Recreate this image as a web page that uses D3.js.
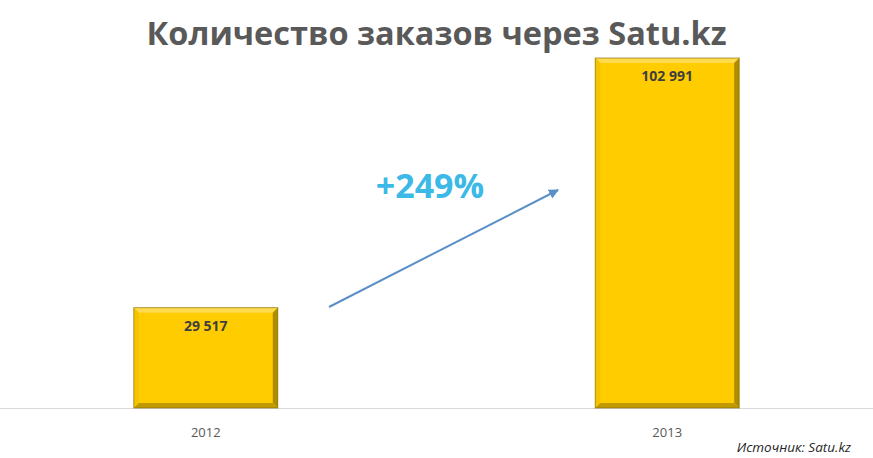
<!DOCTYPE html>
<html>
<head>
<meta charset="utf-8">
<script src="https://cdn.jsdelivr.net/npm/d3@7"></script>
<style>
  body { margin: 0; background: #fff; }
  svg { display: block; }
</style>
</head>
<body>
<svg width="873" height="458"></svg>
<script>
// chart data
const years = ["2012", "2013"];
const orders = [29517, 102991];
const growthLabel = "+249%";

const svg = d3.select("svg"),
    width = +svg.attr("width"),
    height = +svg.attr("height");

const baseY = 408;

const x = d3.scaleBand()
    .domain(years)
    .range([0, width])
    .paddingInner(0.688)
    .paddingOuter(0.29);

const y = d3.scaleLinear()
    .domain([0, d3.max(orders)])
    .range([baseY, 58]);

// title
svg.append("text")
    .attr("x", width / 2)
    .attr("y", 45)
    .attr("text-anchor", "middle")
    .attr("font-family", "Open Sans, sans-serif")
    .attr("font-weight", "bold")
    .attr("font-size", "32.5px")
    .attr("fill", "#595959")
    .text("Количество заказов через Satu.kz");

// baseline
svg.append("line")
    .attr("x1", 0).attr("x2", width)
    .attr("y1", baseY + 0.5).attr("y2", baseY + 0.5)
    .attr("stroke", "#d9d9d9")
    .attr("stroke-width", 1);

const bevel = 5;
const bars = svg.selectAll(".bar")
    .data(years.map((yr, i) => ({ year: yr, value: orders[i] })))
    .enter()
    .append("g")
    .attr("class", "bar");

bars.each(function(d) {
    const g = d3.select(this);
    const x0 = x(d.year), x1 = x0 + x.bandwidth();
    const y0 = y(d.value), y1 = baseY;
    g.append("rect")
        .attr("x", x0).attr("y", y0)
        .attr("width", x1 - x0).attr("height", y1 - y0)
        .attr("fill", "#ffcc00");
    // bevel edges
    const faces = [
        { pts: [[x0, y0], [x1, y0], [x1 - bevel, y0 + bevel], [x0 + bevel, y0 + bevel]], c: "#ffdb4d" },
        { pts: [[x0, y0], [x0 + bevel, y0 + bevel], [x0 + bevel, y1 - bevel], [x0, y1]], c: "#f5c400" },
        { pts: [[x1, y0], [x1, y1], [x1 - bevel, y1 - bevel], [x1 - bevel, y0 + bevel]], c: "#b08c00" },
        { pts: [[x0, y1], [x0 + bevel, y1 - bevel], [x1 - bevel, y1 - bevel], [x1, y1]], c: "#c09a00" }
    ];
    faces.forEach(f => {
        g.append("polygon")
            .attr("points", f.pts.map(p => p.join(",")).join(" "))
            .attr("fill", f.c);
    });
    g.append("rect")
        .attr("x", x0).attr("y", y0)
        .attr("width", x1 - x0).attr("height", y1 - y0)
        .attr("fill", "none")
        .attr("stroke", "#7a6200")
        .attr("stroke-opacity", 0.6)
        .attr("stroke-width", 1);
    g.append("text")
        .attr("x", (x0 + x1) / 2)
        .attr("y", y0 + 23)
        .attr("text-anchor", "middle")
        .attr("font-family", "Open Sans, sans-serif")
        .attr("font-weight", "bold")
        .attr("font-size", "14px")
        .attr("fill", "#3f3f3f")
        .text(d3.format(",")(d.value).replace(/,/g, " "));
});

// category labels
svg.selectAll(".cat")
    .data(years)
    .enter()
    .append("text")
    .attr("class", "cat")
    .attr("x", d => x(d) + x.bandwidth() / 2)
    .attr("y", 437)
    .attr("text-anchor", "middle")
    .attr("font-family", "Open Sans, sans-serif")
    .attr("font-size", "13px")
    .attr("fill", "#595959")
    .text(d => d);

// growth arrow
svg.append("defs").append("marker")
    .attr("id", "arrow")
    .attr("viewBox", "0 0 10 10")
    .attr("refX", 9).attr("refY", 5)
    .attr("markerWidth", 5).attr("markerHeight", 5)
    .attr("orient", "auto")
    .append("path")
    .attr("d", "M0,0 L10,5 L0,10 Z")
    .attr("fill", "#5b8fc7");

svg.append("line")
    .attr("x1", 329).attr("y1", 307)
    .attr("x2", 558).attr("y2", 190)
    .attr("stroke", "#5b8fc7")
    .attr("stroke-width", 2)
    .attr("marker-end", "url(#arrow)");

svg.append("text")
    .attr("x", 430)
    .attr("y", 198)
    .attr("text-anchor", "middle")
    .attr("font-family", "Open Sans, sans-serif")
    .attr("font-weight", "bold")
    .attr("font-size", "34px")
    .attr("fill", "#3cb9e6")
    .text(growthLabel);

// source note
svg.append("text")
    .attr("x", 851)
    .attr("y", 452)
    .attr("text-anchor", "end")
    .attr("font-family", "Open Sans, sans-serif")
    .attr("font-style", "italic")
    .attr("font-size", "13.5px")
    .attr("fill", "#262626")
    .text("Источник: Satu.kz");
</script>
</body>
</html>
